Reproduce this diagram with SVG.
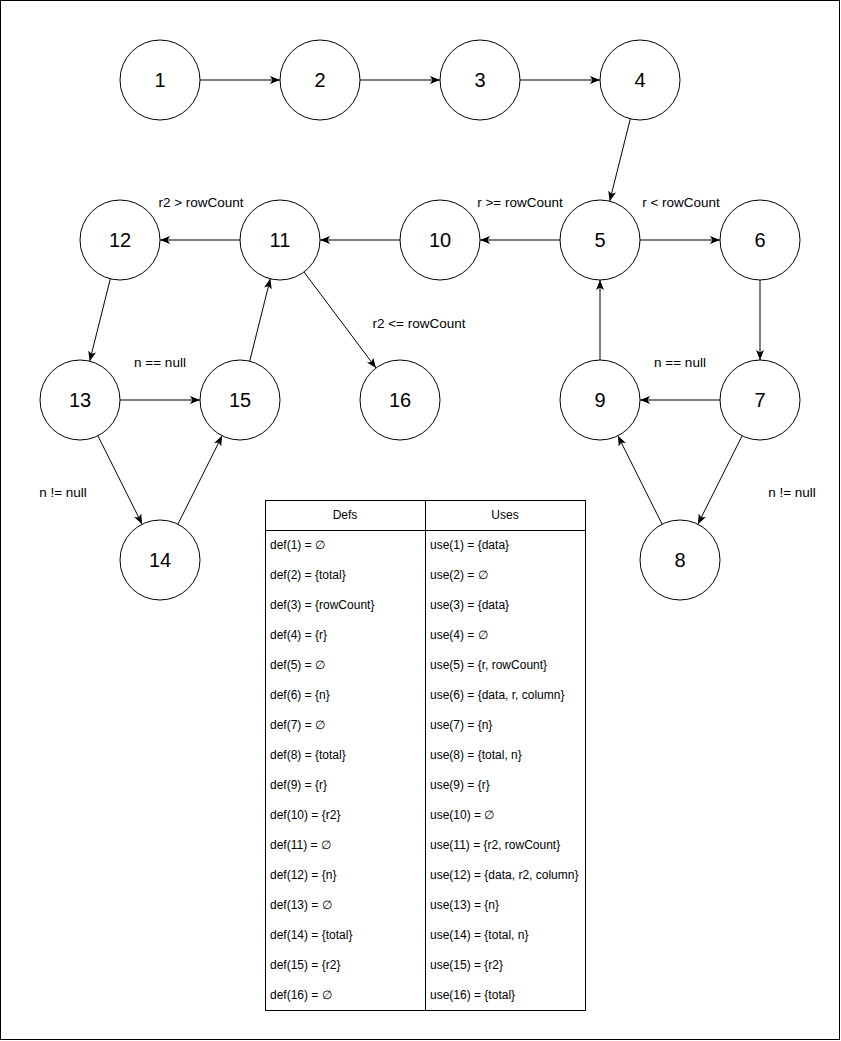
<svg xmlns="http://www.w3.org/2000/svg" width="841" height="1041" viewBox="0 0 841 1041">
  <style>
    .node circle { fill: #ffffff; stroke: #000000; stroke-width: 1; }
    .node text { font-family: "Liberation Sans", Arial, sans-serif; font-size: 20px; fill: #000000; text-anchor: middle; dominant-baseline: central; }
    .edge { fill: none; stroke: #000000; stroke-width: 1; marker-end: url(#arrow); }
    .elabel { font-family: "Liberation Sans", Arial, sans-serif; font-size: 13.5px; fill: #000000; text-anchor: middle; dominant-baseline: central; }
    .tbl { fill: none; stroke: #000000; stroke-width: 1; }
    .cell { font-family: "Liberation Sans", Arial, sans-serif; font-size: 12px; fill: #000000; dominant-baseline: central; }
    .head { text-anchor: middle; }
  </style>
  <defs>
    <marker id="arrow" viewBox="0 0 10 8" refX="10" refY="4" markerWidth="10" markerHeight="8" markerUnits="userSpaceOnUse" orient="auto">
      <path d="M0,0 L10,4 L0,8 L2.5,4 Z" fill="#000000"/>
    </marker>
  </defs>

  <!-- page frame -->
  <rect x="0.5" y="0.5" width="839" height="1039" fill="#ffffff" stroke="#000000" stroke-width="1"/>

  <!-- connectors -->
  <g id="connectors">
    <line class="edge" x1="200" y1="80" x2="280" y2="80"/>
    <line class="edge" x1="360" y1="80" x2="440" y2="80"/>
    <line class="edge" x1="520" y1="80" x2="600" y2="80"/>
    <line class="edge" x1="630.3" y1="118.8" x2="609.7" y2="201.2"/>
    <line class="edge" x1="640" y1="240" x2="720" y2="240"/>
    <line class="edge" x1="560" y1="240" x2="480" y2="240"/>
    <line class="edge" x1="400" y1="240" x2="320" y2="240"/>
    <line class="edge" x1="240" y1="240" x2="160" y2="240"/>
    <line class="edge" x1="110.3" y1="278.8" x2="89.7" y2="361.2"/>
    <line class="edge" x1="120" y1="400" x2="200" y2="400"/>
    <line class="edge" x1="97.9" y1="435.8" x2="142.1" y2="524.2"/>
    <line class="edge" x1="177.9" y1="524.2" x2="222.1" y2="435.8"/>
    <line class="edge" x1="249.7" y1="361.2" x2="270.3" y2="278.8"/>
    <line class="edge" x1="304" y1="272" x2="376" y2="368"/>
    <line class="edge" x1="760" y1="280" x2="760" y2="360"/>
    <line class="edge" x1="720" y1="400" x2="640" y2="400"/>
    <line class="edge" x1="742.1" y1="435.8" x2="697.9" y2="524.2"/>
    <line class="edge" x1="662.1" y1="524.2" x2="617.9" y2="435.8"/>
    <line class="edge" x1="600" y1="360" x2="600" y2="280"/>
  </g>

  <!-- connector labels -->
  <g id="edge-labels">
    <text class="elabel" x="520" y="202">r &gt;= rowCount</text>
    <text class="elabel" x="681" y="202">r &lt; rowCount</text>
    <text class="elabel" x="201" y="202">r2 &gt; rowCount</text>
    <text class="elabel" x="419" y="323">r2 &lt;= rowCount</text>
    <text class="elabel" x="160" y="362">n == null</text>
    <text class="elabel" x="680" y="362">n == null</text>
    <text class="elabel" x="63" y="492">n != null</text>
    <text class="elabel" x="792" y="492">n != null</text>
  </g>

  <!-- nodes -->
  <g id="n1" class="node"><circle cx="160" cy="80" r="40"/><text x="160" y="80">1</text></g>
  <g id="n2" class="node"><circle cx="320" cy="80" r="40"/><text x="320" y="80">2</text></g>
  <g id="n3" class="node"><circle cx="480" cy="80" r="40"/><text x="480" y="80">3</text></g>
  <g id="n4" class="node"><circle cx="640" cy="80" r="40"/><text x="640" y="80">4</text></g>
  <g id="n5" class="node"><circle cx="600" cy="240" r="40"/><text x="600" y="240">5</text></g>
  <g id="n6" class="node"><circle cx="760" cy="240" r="40"/><text x="760" y="240">6</text></g>
  <g id="n7" class="node"><circle cx="760" cy="400" r="40"/><text x="760" y="400">7</text></g>
  <g id="n8" class="node"><circle cx="680" cy="560" r="40"/><text x="680" y="560">8</text></g>
  <g id="n9" class="node"><circle cx="600" cy="400" r="40"/><text x="600" y="400">9</text></g>
  <g id="n10" class="node"><circle cx="440" cy="240" r="40"/><text x="440" y="240">10</text></g>
  <g id="n11" class="node"><circle cx="280" cy="240" r="40"/><text x="280" y="240">11</text></g>
  <g id="n12" class="node"><circle cx="120" cy="240" r="40"/><text x="120" y="240">12</text></g>
  <g id="n13" class="node"><circle cx="80" cy="400" r="40"/><text x="80" y="400">13</text></g>
  <g id="n14" class="node"><circle cx="160" cy="560" r="40"/><text x="160" y="560">14</text></g>
  <g id="n15" class="node"><circle cx="240" cy="400" r="40"/><text x="240" y="400">15</text></g>
  <g id="n16" class="node"><circle cx="400" cy="400" r="40"/><text x="400" y="400">16</text></g>

  <!-- def/use table -->
  <g id="def-use-table">
    <rect class="tbl" x="265.5" y="500.5" width="320" height="510" fill="#ffffff"/>
    <line class="tbl" x1="265.5" y1="530.5" x2="585.5" y2="530.5"/>
    <line class="tbl" x1="425.5" y1="500.5" x2="425.5" y2="1010.5"/>
    <text class="cell head" x="345" y="515">Defs</text>
    <text class="cell head" x="505" y="515">Uses</text>
    <g>
      <text class="cell" x="270" y="545">def(1) = ∅</text>
      <text class="cell" x="270" y="575">def(2) = {total}</text>
      <text class="cell" x="270" y="605">def(3) = {rowCount}</text>
      <text class="cell" x="270" y="635">def(4) = {r}</text>
      <text class="cell" x="270" y="665">def(5) = ∅</text>
      <text class="cell" x="270" y="695">def(6) = {n}</text>
      <text class="cell" x="270" y="725">def(7) = ∅</text>
      <text class="cell" x="270" y="755">def(8) = {total}</text>
      <text class="cell" x="270" y="785">def(9) = {r}</text>
      <text class="cell" x="270" y="815">def(10) = {r2}</text>
      <text class="cell" x="270" y="845">def(11) = ∅</text>
      <text class="cell" x="270" y="875">def(12) = {n}</text>
      <text class="cell" x="270" y="905">def(13) = ∅</text>
      <text class="cell" x="270" y="935">def(14) = {total}</text>
      <text class="cell" x="270" y="965">def(15) = {r2}</text>
      <text class="cell" x="270" y="995">def(16) = ∅</text>

      <text class="cell" x="430" y="545">use(1) = {data}</text>
      <text class="cell" x="430" y="575">use(2) = ∅</text>
      <text class="cell" x="430" y="605">use(3) = {data}</text>
      <text class="cell" x="430" y="635">use(4) = ∅</text>
      <text class="cell" x="430" y="665">use(5) = {r, rowCount}</text>
      <text class="cell" x="430" y="695">use(6) = {data, r, column}</text>
      <text class="cell" x="430" y="725">use(7) = {n}</text>
      <text class="cell" x="430" y="755">use(8) = {total, n}</text>
      <text class="cell" x="430" y="785">use(9) = {r}</text>
      <text class="cell" x="430" y="815">use(10) = ∅</text>
      <text class="cell" x="430" y="845">use(11) = {r2, rowCount}</text>
      <text class="cell" x="430" y="875">use(12) = {data, r2, column}</text>
      <text class="cell" x="430" y="905">use(13) = {n}</text>
      <text class="cell" x="430" y="935">use(14) = {total, n}</text>
      <text class="cell" x="430" y="965">use(15) = {r2}</text>
      <text class="cell" x="430" y="995">use(16) = {total}</text>
    </g>
  </g>
</svg>
